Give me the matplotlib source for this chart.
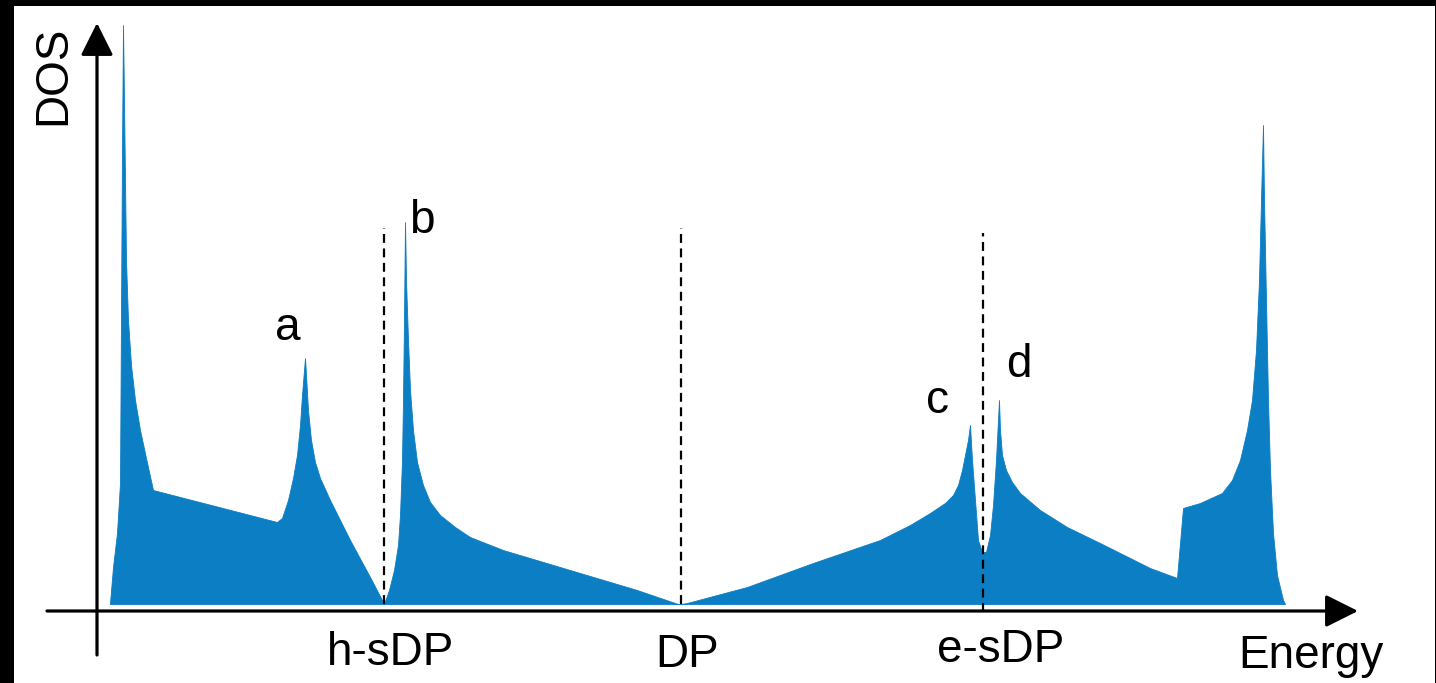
#Import libraries
import numpy as np #arrays
import matplotlib
matplotlib.use('Agg')
import matplotlib.pyplot as plt #plots
from matplotlib.patches import Rectangle
#/Import libraries

#DOS profile (energy, DOS) in arbitrary units, DP at energy=0#
energy=[-571,-568,-564,-561,-559,-558,-557,-556,-555,-553,-550,-546,-541,-535,-528,-466,
        -404,-399,-393,-388,-384,-381,-379,-377,-376,-375,-373,-370,-366,-361,-351,-331,-311,-299,
        -297,-292,-287,-283,-281,-279,-278,-277,-276,-275,-273,-271,-268,-264,-258,-251,-241,-226,
        -211,-178,-111,-44,-3,
        0,6,66,132,199,229,249,264,272,277,281,284,287,289,291,294,297,301,305,309,312,315,317,318,
        319,321,325,331,339,359,386,419,469,496,
        502,519,541,551,559,566,571,575,578,580,582,583,585,587,589,592,596,602,604]
dos=[1,37,71,121,454,579,504,424,344,284,239,204,174,146,114,98,
     82,86,104,126,149,179,209,234,246,229,194,164,142,126,104,64,27,4,
     0,14,34,59,89,144,204,284,382,324,264,214,174,142,119,102,89,77,
     67,54,34,14,0,
     0,1,17,41,64,79,91,101,109,119,134,149,164,179,144,104,64,52,52,69,99,144,184,204,
     174,149,134,122,111,94,77,61,36,26,
     96,101,111,124,144,174,204,254,324,404,479,404,304,204,134,71,29,4,0]

#Special points on the energy axis#
point_labels=['h-sDP','DP','e-sDP']
point_energy=[-297,0,302]
#Peak labels#
peak_labels=['a','b','c','d']
#/Data

blue='#0B7EC4'
font='Liberation Sans'
fs=33

fig=plt.figure(figsize=(14.36,6.83),dpi=100,facecolor='white')
ax=fig.add_axes([0,0,1,1])
ax.set_xlim(-681,755);ax.set_ylim(-79,604)
ax.axis('off')

#DOS filled area
ax.fill_between(energy,dos,0,color=blue,lw=0.6,edgecolor=blue,zorder=2)

#Dashed markers at h-sDP, DP, e-sDP
ax.vlines(point_energy[0],0,376,colors='black',lw=1.6,linestyles=(0,(4,2.5)),zorder=3)
ax.vlines(point_energy[1],0,376,colors='black',lw=1.6,linestyles=(0,(4,2.5)),zorder=3)
ax.vlines(point_energy[2],-8,371,colors='black',lw=1.6,linestyles=(0,(4,2.5)),zorder=3)

#Axes with arrow heads
arr=dict(arrowstyle='-|>,head_length=1.0,head_width=0.5',mutation_scale=20,lw=2.3,color='black',shrinkA=0,shrinkB=0)
ax.annotate('',xy=(-584,581),xytext=(-584,-51),arrowprops=arr,zorder=4)
ax.annotate('',xy=(677,-7),xytext=(-634,-7),arrowprops=arr,zorder=4)

#Axis labels
ax.text(-628,529,'DOS',rotation=90,ha='center',va='center',fontsize=fs,family=font)
ax.text(630,-64,'Energy',ha='center',va='baseline',fontsize=fs,family=font)
for lab,x,y in zip(point_labels,[-291,6,320],[-61,-63,-58]):
  ax.text(x,y,lab,ha='center',va='baseline',fontsize=fs,family=font)

#Peak letters
for lab,x,y in zip(peak_labels,[-393,-259,257,338],[264,371,191,227]):
  ax.text(x,y,lab,ha='center',va='baseline',fontsize=fs,family=font)

#Black frame strips (top, left, right)
fig.add_artist(Rectangle((0,1-6/683),1,6/683,transform=fig.transFigure,color='black',lw=0))
fig.add_artist(Rectangle((0,0),14/1436,1,transform=fig.transFigure,color='black',lw=0))
fig.add_artist(Rectangle((1-1.5/1436,0),1.5/1436,1,transform=fig.transFigure,color='black',lw=0))

fig.savefig('out.png',dpi=100,facecolor='white')
